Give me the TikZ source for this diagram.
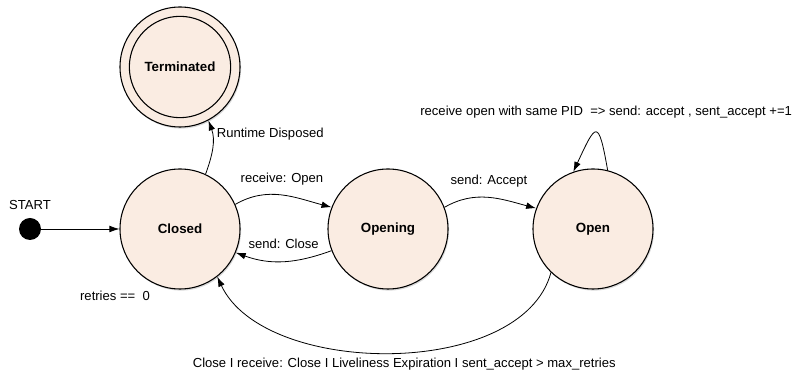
\documentclass[tikz,border=0pt]{standalone}
\usepackage{fontspec}
\setmainfont{Liberation Sans}
\usetikzlibrary{arrows.meta,shadows}
\definecolor{peach}{RGB}{250,236,226}
\tikzset{
	stnode/.style={circle,draw,line width=0.8pt,fill=peach,minimum size=90pt,inner sep=0pt,font=\bfseries,
		drop shadow={shadow xshift=0.8pt,shadow yshift=-1.2pt,opacity=0.3}},
	trans/.style={-{Latex[length=7.5pt,width=5pt]},line width=0.6pt},
}

\begin{document}
\begin{tikzpicture}[x=0.75pt,y=0.75pt,font=\fontsize{9.8}{12}\selectfont]
	\useasboundingbox (0,0) rectangle (796,374);

	\node[stnode] (terminated) at (180,307) {};
	\node[circle,draw,line width=0.8pt,minimum size=76pt,font=\bfseries] (terminatedin) at (180,307) {Terminated};
	\node[stnode] (closed) at (180,145) {Closed};
	\node[stnode] (opening) at (388,145) {Opening};
	\node[stnode] (open) at (593,145) {Open};

	\node[circle,fill=black,minimum size=16.5pt,inner sep=0pt] (start) at (30,145) {};
	\node (startlbl) at (30,169) {START};
	\node (retrieslbl) at (115,78) {retries ==\ \ 0};

	\draw[trans] (start) -- (closed);
	\draw[trans] (closed.65) to[out=70,in=-70] node[right,pos=0.75] {Runtime Disposed} (terminated.-62);
	\draw[trans] (closed.24) to[out=30,in=165] node[above=4pt] {receive: Open} (opening.159);
	\draw[trans] (opening.201) to[out=200,in=-20] node[above=6pt] {send: Close} (closed.-23);
	\draw[trans] (opening.21) to[out=30,in=165] node[above=4pt] {send: Accept} (open.160);
	\draw[trans] (open.76) to[out=100,in=65,looseness=4] node[above=7pt,xshift=8pt] {receive open with same PID\ \ => send: accept , sent\_accept +=1} (open.109);
	\draw[trans] (open.226) to[out=-105,in=-65,looseness=0.85] node[below=0.5pt,xshift=10pt] {Close I receive: Close I Liveliness Expiration I sent\_accept > max\_retries} (closed.-52);
\end{tikzpicture}
\end{document}
